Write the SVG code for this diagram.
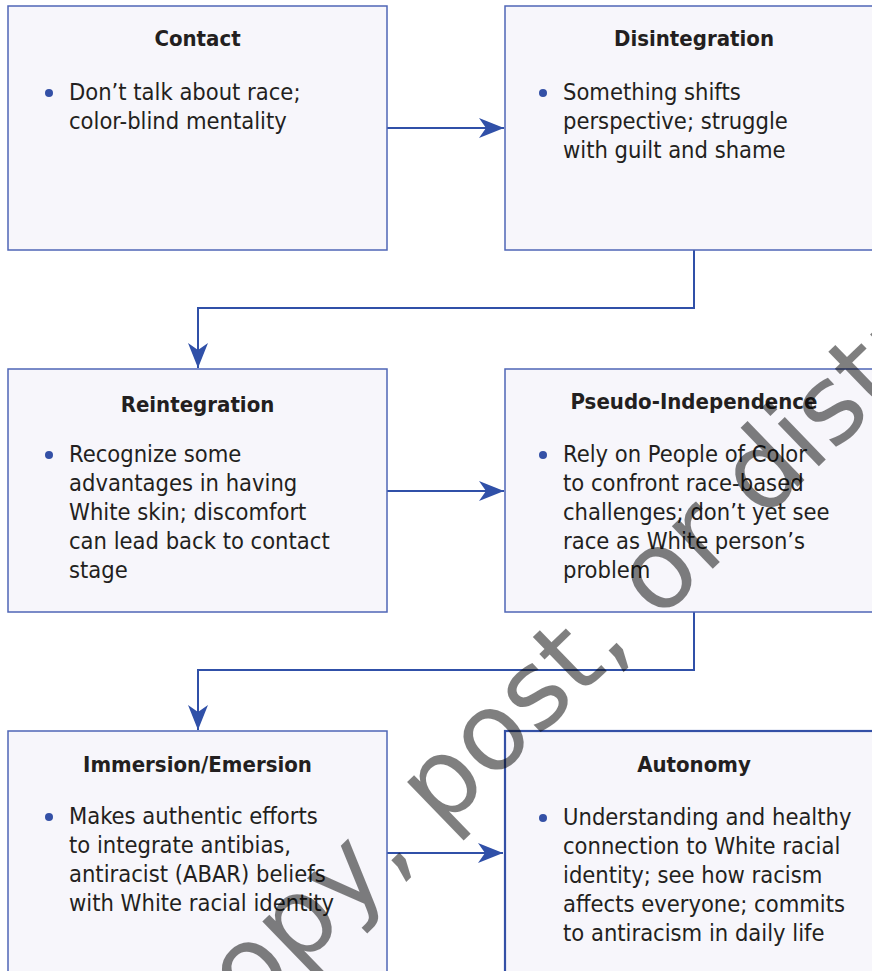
<svg xmlns="http://www.w3.org/2000/svg" width="872" height="971" viewBox="0 0 872 971">
<style>
.box{fill:#f7f6fb;stroke:#4f66b6;stroke-width:1.5}
.box.strong{stroke:#3450a6;stroke-width:2.2}
.title{font-family:"DejaVu Sans Condensed","DejaVu Sans",sans-serif;font-stretch:condensed;font-weight:bold;font-size:22px;fill:#231f20;text-anchor:middle}
.body{font-family:"DejaVu Sans Condensed","DejaVu Sans",sans-serif;font-stretch:condensed;font-size:23.5px;fill:#231f20}
.dot{fill:#3450a6}
.conn{fill:none;stroke:#3050a8;stroke-width:2}
.wm{font-family:"DejaVu Sans",sans-serif;font-size:108px;fill:#000;fill-opacity:0.5}
</style>
<defs>
<marker id="arr" markerUnits="userSpaceOnUse" markerWidth="26" markerHeight="22" refX="25" refY="10" orient="auto" viewBox="0 0 26 20">
<path d="M0,0 L25,10 L0,20 L7,10 z" fill="#3050a8"/>
</marker>
</defs>
<rect width="872" height="971" fill="#fff"/>
<g id="connectors">
<path class="conn" d="M387,128 H504" marker-end="url(#arr)"/>
<path class="conn" d="M694,250 V308 H198 V368" marker-end="url(#arr)"/>
<path class="conn" d="M387,491 H504" marker-end="url(#arr)"/>
<path class="conn" d="M694,612 V670 H198 V730" marker-end="url(#arr)"/>
<path class="conn" d="M387,853 H503" marker-end="url(#arr)"/>
</g>
<g id="contact">
<rect class="box" x="8" y="6" width="379" height="244"/>
<text class="title" x="197.5" y="46">Contact</text>
<circle class="dot" cx="49" cy="93" r="4"/>
<text class="body"><tspan x="69" y="100">Don’t talk about race;</tspan><tspan x="69" y="129">color-blind mentality</tspan></text>
</g>
<g id="disintegration">
<rect class="box" x="505" y="6" width="379" height="244"/>
<text class="title" x="694" y="46">Disintegration</text>
<circle class="dot" cx="543" cy="93" r="4"/>
<text class="body"><tspan x="563" y="100">Something shifts</tspan><tspan x="563" y="129">perspective; struggle</tspan><tspan x="563" y="158">with guilt and shame</tspan></text>
</g>
<g id="reintegration">
<rect class="box" x="8" y="369" width="379" height="243"/>
<text class="title" x="197.5" y="412">Reintegration</text>
<circle class="dot" cx="49" cy="455" r="4"/>
<text class="body"><tspan x="69" y="462">Recognize some</tspan><tspan x="69" y="491">advantages in having</tspan><tspan x="69" y="520">White skin; discomfort</tspan><tspan x="69" y="549">can lead back to contact</tspan><tspan x="69" y="578">stage</tspan></text>
</g>
<g id="pseudo-independence">
<rect class="box" x="505" y="369" width="379" height="243"/>
<text class="title" x="694" y="409">Pseudo-Independence</text>
<circle class="dot" cx="543" cy="455" r="4"/>
<text class="body"><tspan x="563" y="462">Rely on People of Color</tspan><tspan x="563" y="491">to confront race-based</tspan><tspan x="563" y="520">challenges; don’t yet see</tspan><tspan x="563" y="549">race as White person’s</tspan><tspan x="563" y="578">problem</tspan></text>
</g>
<g id="immersion-emersion">
<rect class="box" x="8" y="731" width="379" height="260"/>
<text class="title" x="197.5" y="772">Immersion/Emersion</text>
<circle class="dot" cx="49" cy="817" r="4"/>
<text class="body"><tspan x="69" y="824">Makes authentic efforts</tspan><tspan x="69" y="853">to integrate antibias,</tspan><tspan x="69" y="882">antiracist (ABAR) beliefs</tspan><tspan x="69" y="911">with White racial identity</tspan></text>
</g>
<g id="autonomy">
<rect class="box strong" x="505" y="731" width="379" height="260"/>
<text class="title" x="694" y="772">Autonomy</text>
<circle class="dot" cx="543" cy="818" r="4"/>
<text class="body"><tspan x="563" y="825">Understanding and healthy</tspan><tspan x="563" y="854">connection to White racial</tspan><tspan x="563" y="883">identity; see how racism</tspan><tspan x="563" y="912">affects everyone; commits</tspan><tspan x="563" y="941">to antiracism in daily life</tspan></text>
</g>
<text class="wm" transform="translate(206,1058) rotate(-44)">copy, post, or distribute</text>
</svg>
